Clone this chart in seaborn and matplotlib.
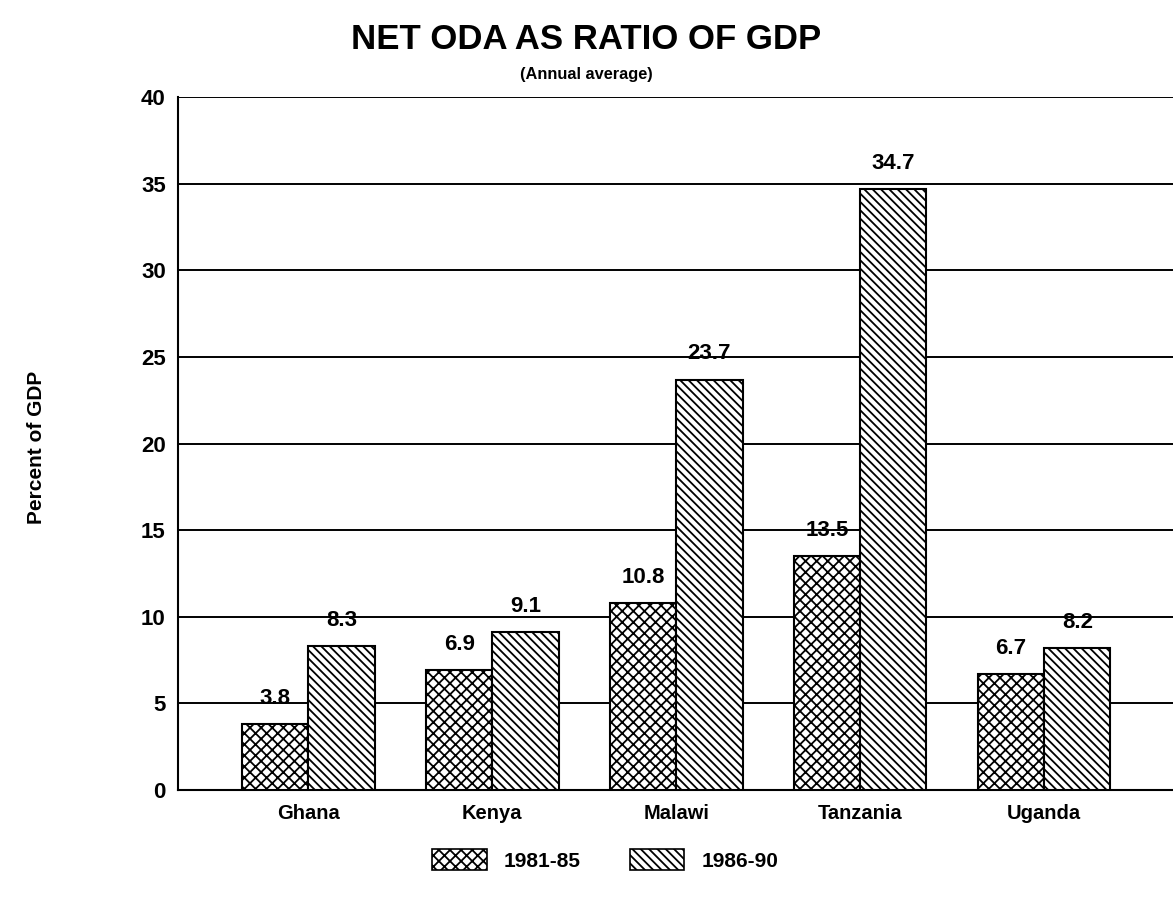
import matplotlib
matplotlib.use("Agg")
import matplotlib.pyplot as plt
import seaborn as sns
import pandas as pd
from matplotlib.patches import Patch

countries = ["Ghana", "Kenya", "Malawi", "Tanzania", "Uganda"]
periods = ["1981-85", "1986-90"]
vals_1981_85 = [3.8, 6.9, 10.8, 13.5, 6.7]
vals_1986_90 = [8.3, 9.1, 23.7, 34.7, 8.2]
labels_1981_85 = ["3.8", "6.9", "10.8", "13.5", "6.7"]
labels_1986_90 = ["8.3", "9.1", "23.7", "34.7", "8.2"]
yticks = [0, 5, 10, 15, 20, 25, 30, 35, 40]

df = pd.DataFrame({
    "Country": countries * 2,
    "Period": [periods[0]] * len(countries) + [periods[1]] * len(countries),
    "Value": vals_1981_85 + vals_1986_90,
})

sns.set_theme(style="white")
plt.rcParams["font.family"] = ["Liberation Sans", "DejaVu Sans"]
plt.rcParams["hatch.linewidth"] = 1.3
plt.rcParams["text.color"] = "black"
plt.rcParams["xtick.color"] = "black"
plt.rcParams["ytick.color"] = "black"
plt.rcParams["axes.labelcolor"] = "black"

fig = plt.figure(figsize=(11.73, 9.10), dpi=100)
ax = fig.add_axes([0.152, 0.132, 0.848, 0.761])

ax.yaxis.grid(True, color="black", linewidth=1.4)
ax.set_axisbelow(True)

sns.barplot(data=df, x="Country", y="Value", hue="Period", order=countries,
            hue_order=periods, palette=["white", "white"], width=0.72,
            edgecolor="black", linewidth=1.5, legend=False, ax=ax, zorder=3)

hatches = {periods[0]: "xxx", periods[1]: "\\\\\\\\"}
for container, per, labs in zip(ax.containers, periods, [labels_1981_85, labels_1986_90]):
    for bar in container:
        bar.set_hatch(hatches[per])
    ax.bar_label(container, labels=labs, padding=11, fontsize=16,
                 fontweight="bold", zorder=4, color="black")

ax.set_ylim(0, 40)
ax.set_xlim(-0.707, 4.70)
ax.set_yticks(yticks)
ax.set_yticklabels([str(t) for t in yticks], fontsize=16, fontweight="bold")
ax.tick_params(axis="x", labelsize=14.5, pad=10, length=0)
for t in ax.get_xticklabels():
    t.set_fontweight("bold")
ax.tick_params(axis="y", pad=9, length=0)
ax.set_xlabel("")
ax.set_ylabel("")

for s in ["top", "right"]:
    ax.spines[s].set_visible(False)
ax.spines["left"].set_color("black")
ax.spines["left"].set_linewidth(1.5)
ax.spines["bottom"].set_color("black")
ax.spines["bottom"].set_linewidth(1.5)

fig.text(0.5, 0.957, "NET ODA AS RATIO OF GDP", ha="center", va="center",
         fontsize=25, fontweight="bold")
fig.text(0.5, 0.918, "(Annual average)", ha="center", va="center",
         fontsize=11.8, fontweight="bold")
fig.text(0.031, 0.508, "Percent of GDP", rotation=90, ha="center", va="center",
         fontsize=15, fontweight="bold")

handles = [Patch(facecolor="white", edgecolor="black", hatch=hatches[p], linewidth=1.2)
           for p in periods]
fig.legend(handles, periods, loc="center", bbox_to_anchor=(0.516, 0.055), ncol=2,
           frameon=False, prop={"weight": "bold", "size": 15},
           handlelength=2.6, handleheight=1.2, columnspacing=2.4, handletextpad=0.8)

fig.savefig("out.png", dpi=100)
